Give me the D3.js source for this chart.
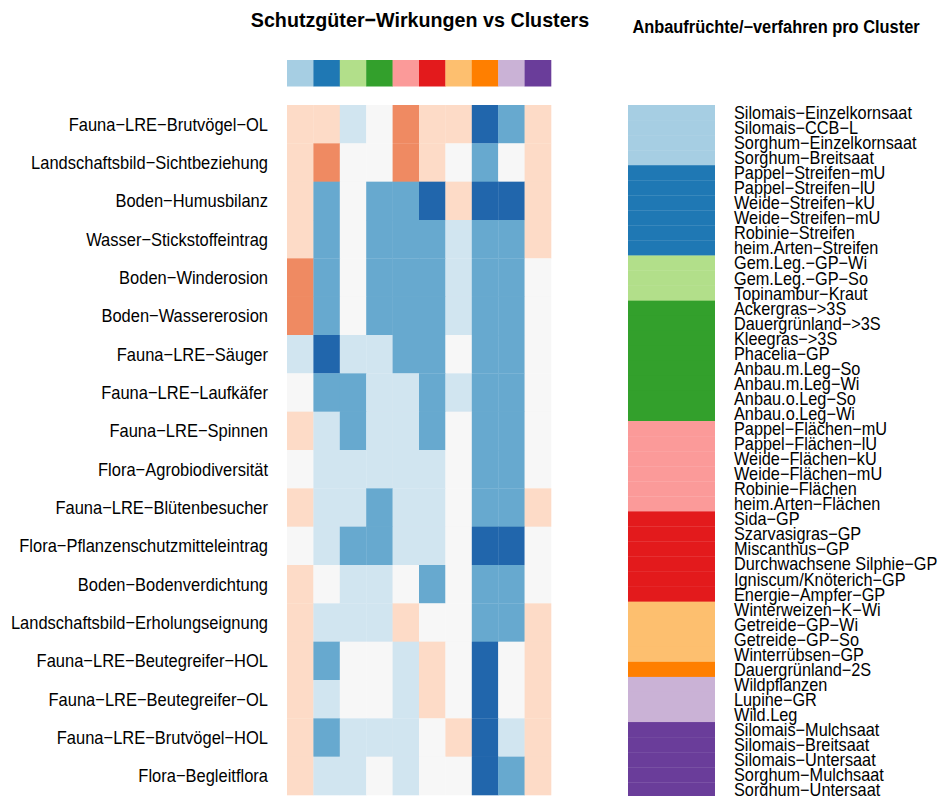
<!DOCTYPE html>
<html>
<head>
<meta charset="utf-8">
<script src="https://cdn.jsdelivr.net/npm/d3@7"></script>
<style>
  html, body { margin: 0; padding: 0; background: #fff; }
  text { font-family: "Liberation Sans", Arial, sans-serif; }
</style>
</head>
<body>
<svg id="chart" width="938" height="796"></svg>
<script>
// Schutzgüter (rows) and their effect class per cluster (columns)
const rowLabels = [
  "Fauna−LRE−Brutvögel−OL",
  "Landschaftsbild−Sichtbeziehung",
  "Boden−Humusbilanz",
  "Wasser−Stickstoffeintrag",
  "Boden−Winderosion",
  "Boden−Wassererosion",
  "Fauna−LRE−Säuger",
  "Fauna−LRE−Laufkäfer",
  "Fauna−LRE−Spinnen",
  "Flora−Agrobiodiversität",
  "Fauna−LRE−Blütenbesucher",
  "Flora−Pflanzenschutzmitteleintrag",
  "Boden−Bodenverdichtung",
  "Landschaftsbild−Erholungseignung",
  "Fauna−LRE−Beutegreifer−HOL",
  "Fauna−LRE−Beutegreifer−OL",
  "Fauna−LRE−Brutvögel−HOL",
  "Flora−Begleitflora"
];

const clusters = ["1", "2", "3", "4", "5", "6", "7", "8", "9", "10"];

// effect class per row, one entry per cluster (−3 … +3)
const effects = [
  [-1, -1,  1,  0, -2, -1, -1,  3,  2, -1],
  [-1, -2,  0,  0, -2, -1,  0,  2,  0, -1],
  [-1,  2,  0,  2,  2,  3, -1,  3,  3, -1],
  [-1,  2,  0,  2,  2,  2,  1,  2,  2, -1],
  [-2,  2,  0,  2,  2,  2,  1,  2,  2,  0],
  [-2,  2,  0,  2,  2,  2,  1,  2,  2,  0],
  [ 1,  3,  1,  1,  2,  2,  0,  2,  2,  0],
  [ 0,  2,  2,  1,  1,  2,  1,  2,  2,  0],
  [-1,  1,  2,  1,  1,  2,  0,  2,  2,  0],
  [ 0,  1,  1,  1,  1,  1,  0,  2,  2,  0],
  [-1,  1,  1,  2,  1,  1,  0,  2,  2, -1],
  [ 0,  1,  2,  2,  1,  1,  0,  3,  3,  0],
  [-1,  0,  1,  1,  0,  2,  0,  2,  2,  0],
  [-1,  1,  1,  1, -1,  0,  0,  2,  2, -1],
  [-1,  2,  0,  0,  1, -1,  0,  3,  0, -1],
  [-1,  1,  0,  0,  1, -1,  0,  3,  0, -1],
  [-1,  2,  1,  1,  1,  0, -1,  3,  1, -1],
  [-1,  1,  1,  0,  1,  0,  0,  3,  2, -1]
];

const effectClasses = [-3, -2, -1, 0, 1, 2, 3];

// crops / cultivation methods and the cluster each one belongs to
const crops = [
  "Silomais−Einzelkornsaat", "Silomais−CCB−L", "Sorghum−Einzelkornsaat", "Sorghum−Breitsaat",
  "Pappel−Streifen−mU", "Pappel−Streifen−lU", "Weide−Streifen−kU", "Weide−Streifen−mU",
  "Robinie−Streifen", "heim.Arten−Streifen",
  "Gem.Leg.−GP−Wi", "Gem.Leg.−GP−So", "Topinambur−Kraut",
  "Ackergras−>3S", "Dauergrünland−>3S", "Kleegras−>3S", "Phacelia−GP",
  "Anbau.m.Leg−So", "Anbau.m.Leg−Wi", "Anbau.o.Leg−So", "Anbau.o.Leg−Wi",
  "Pappel−Flächen−mU", "Pappel−Flächen−lU", "Weide−Flächen−kU", "Weide−Flächen−mU",
  "Robinie−Flächen", "heim.Arten−Flächen",
  "Sida−GP", "Szarvasigras−GP", "Miscanthus−GP", "Durchwachsene Silphie−GP",
  "Igniscum/Knöterich−GP", "Energie−Ampfer−GP",
  "Winterweizen−K−Wi", "Getreide−GP−Wi", "Getreide−GP−So", "Winterrübsen−GP",
  "Dauergrünland−2S",
  "Wildpflanzen", "Lupine−GR", "Wild.Leg",
  "Silomais−Mulchsaat", "Silomais−Breitsaat", "Silomais−Untersaat", "Sorghum−Mulchsaat", "Sorghum−Untersaat"
];
const cropCluster = [
  "1","1","1","1",
  "2","2","2","2","2","2",
  "3","3","3",
  "4","4","4","4","4","4","4","4",
  "5","5","5","5","5","5",
  "6","6","6","6","6","6",
  "7","7","7","7",
  "8",
  "9","9","9",
  "10","10","10","10","10"
];

const svg = d3.select("#chart");

// ---- heatmap ----
const hm = { left: 287, right: 551, top: 105, bottom: 795 };
const x = d3.scaleBand().domain(clusters).range([hm.left, hm.right]);
const y = d3.scaleBand().domain(rowLabels).range([hm.top, hm.bottom]);
const fill = d3.scaleOrdinal().domain(effectClasses).range(d3.schemeRdBu[7]);
const clusterColor = d3.scaleOrdinal().domain(clusters).range(d3.schemePaired.slice(0, 10));

const cells = [];
effects.forEach((row, i) => row.forEach((v, j) => cells.push({ r: rowLabels[i], c: clusters[j], v })));

svg.append("g").selectAll("rect").data(cells).join("rect")
  .attr("x", d => x(d.c))
  .attr("y", d => y(d.r))
  .attr("width", x.bandwidth() + 0.3)
  .attr("height", y.bandwidth() + 0.3)
  .attr("fill", d => fill(d.v));

// cluster colour strip above the columns
svg.append("g").selectAll("rect").data(clusters).join("rect")
  .attr("x", d => x(d))
  .attr("y", 60)
  .attr("width", x.bandwidth() + 0.3)
  .attr("height", 26.5)
  .attr("fill", d => clusterColor(d));

// row labels (slightly tall glyphs)
const yAxis = d3.axisLeft(y).tickSize(0).tickPadding(0);
const ga = svg.append("g").attr("transform", "translate(268,0)").call(yAxis);
ga.select(".domain").remove();
ga.selectAll("text")
  .attr("x", 0)
  .attr("dy", "0.36em")
  .attr("transform", "scale(1,1.12)")
  .attr("font-size", 16.5)
  .attr("fill", "#000")
  .style("font-family", "Liberation Sans, Arial, sans-serif");

svg.append("text")
  .attr("transform", "translate(420,27) scale(1,1.07)")
  .attr("text-anchor", "middle")
  .attr("font-size", 19.7)
  .attr("font-weight", "bold")
  .text("Schutzgüter−Wirkungen vs Clusters");

// ---- crop legend ----
const lg = { left: 628, right: 715, top: 105 };
const ly = d3.scaleBand().domain(crops).range([lg.top, lg.top + crops.length * 15.05]);

svg.append("g").selectAll("rect").data(crops).join("rect")
  .attr("x", lg.left)
  .attr("y", d => ly(d))
  .attr("width", lg.right - lg.left)
  .attr("height", ly.bandwidth() + 0.3)
  .attr("fill", (d, i) => clusterColor(cropCluster[i]));

svg.append("g").selectAll("text").data(crops).join("text")
  .attr("transform", d => `translate(734,${ly(d) + ly.bandwidth() / 2}) scale(1,1.1)`)
  .attr("dy", "0.36em")
  .attr("font-size", 16.3)
  .text(d => d);

svg.append("text")
  .attr("transform", "translate(776,33) scale(1,1.07)")
  .attr("text-anchor", "middle")
  .attr("font-size", 16.4)
  .attr("font-weight", "bold")
  .text("Anbaufrüchte/−verfahren pro Cluster");
</script>
</body>
</html>
